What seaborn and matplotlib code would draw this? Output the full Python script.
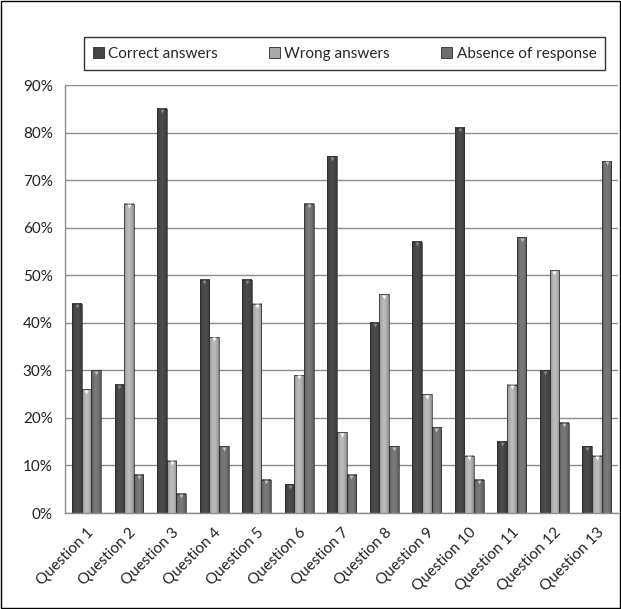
import matplotlib
matplotlib.use("Agg")
import matplotlib.pyplot as plt
import matplotlib.patches as mpatches
import matplotlib.colors as mcolors
import numpy as np
import seaborn as sns
import pandas as pd
from matplotlib.ticker import PercentFormatter, MultipleLocator

questions = [f"Question {i}" for i in range(1, 14)]
series = ["Correct answers", "Wrong answers", "Absence of response"]
correct = [44, 27, 85, 49, 49, 6, 75, 40, 57, 81, 15, 30, 14]
wrong = [26, 65, 11, 37, 44, 29, 17, 46, 25, 12, 27, 51, 12]
absent = [30, 8, 4, 14, 7, 65, 8, 14, 18, 7, 58, 19, 74]
colors = ["#454545", "#aaaaaa", "#6e6e6e"]

df = pd.DataFrame({
    "question": questions * 3,
    "series": [s for s in series for _ in questions],
    "value": correct + wrong + absent,
})

sns.set_style("white")
plt.rcParams["font.family"] = ["Lato", "DejaVu Sans"]

fig = plt.figure(figsize=(6.21, 6.09), dpi=100)
ax = fig.add_axes([0.105, 0.1576, 0.8905, 0.7028])

sns.barplot(data=df, x="question", y="value", hue="series", order=questions,
            hue_order=series, palette=colors, width=0.68, gap=0,
            edgecolor="#2a2a2a", linewidth=0.5, ax=ax, legend=False)

# cylinder-like shading: darker edges, lighter middle of each bar
t = np.linspace(0, 1, 64)
profile = 0.78 + 0.32 * np.sin(np.pi * t) ** 0.8
for bar in list(ax.patches):
    x0, y0 = bar.get_x(), bar.get_y()
    w, h = bar.get_width(), bar.get_height()
    if h <= 0:
        continue
    base = np.array(mcolors.to_rgb(bar.get_facecolor()))
    grad = np.clip(base[None, :] * profile[:, None], 0, 1)[None, :, :]
    ax.imshow(grad, extent=[x0, x0 + w, y0, y0 + h], aspect="auto",
              interpolation="bilinear", zorder=bar.get_zorder() - 0.01)
    bar.set_facecolor("none")
    # small highlight cap on top of the bar
    ax.plot(x0 + w / 2, y0 + h - 0.5, marker="v", markersize=2.8,
            color=np.clip(base * 1.4 + 0.15, 0, 1), markeredgewidth=0,
            zorder=bar.get_zorder() + 0.1)

ax.set_ylim(0, 90)
ax.set_xlim(-0.5, len(questions) - 0.5)
ax.yaxis.set_major_locator(MultipleLocator(10))
ax.yaxis.set_major_formatter(PercentFormatter(decimals=0))
ax.grid(axis="y", color="#8c8c8c", linewidth=1)
ax.set_axisbelow(True)
ax.set_xlabel("")
ax.set_ylabel("")

for s in ["top", "right"]:
    ax.spines[s].set_visible(False)
for s in ["left", "bottom"]:
    ax.spines[s].set_color("#8c8c8c")
    ax.spines[s].set_linewidth(1)

# category separators as minor ticks on the x axis
ax.set_xticks(range(len(questions)))
ax.set_xticklabels(questions)
ax.set_xticks([i - 0.5 for i in range(len(questions) + 1)], minor=True)
ax.tick_params(axis="x", which="minor", length=5, color="#8c8c8c", direction="out")
ax.tick_params(axis="x", which="major", length=0, labelsize=11, pad=9)
ax.tick_params(axis="y", length=5, color="#8c8c8c", direction="out", labelsize=11, pad=4)
ax.tick_params(axis="both", labelcolor="#222222")
plt.setp(ax.get_xticklabels(), rotation=45, ha="right", rotation_mode="anchor")

handles = [mpatches.Patch(facecolor=c, edgecolor="#2a2a2a", linewidth=0.6) for c in colors]
leg = fig.legend(handles, series, loc="center", bbox_to_anchor=(0.555, 0.912),
                 ncol=3, frameon=True, fancybox=False, fontsize=11,
                 handlelength=0.7, handleheight=0.7, handletextpad=0.3,
                 columnspacing=3.35, borderpad=0.6)
leg.get_frame().set_edgecolor("black")
leg.get_frame().set_linewidth(1)

# outer border around the whole figure
fig.add_artist(mpatches.Rectangle((0.002, 0.002), 0.996, 0.996, transform=fig.transFigure,
                                  fill=False, edgecolor="black", linewidth=1))

fig.savefig("out.png", dpi=100)
